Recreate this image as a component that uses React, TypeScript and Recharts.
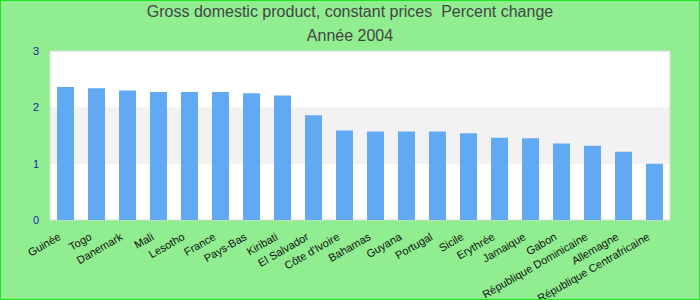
import { BarChart, Bar, XAxis, YAxis, CartesianGrid, ReferenceArea } from "recharts";

const countries = [
  "Guinée",
  "Togo",
  "Danemark",
  "Mali",
  "Lesotho",
  "France",
  "Pays-Bas",
  "Kiribati",
  "El Salvador",
  "Côte d'Ivoire",
  "Bahamas",
  "Guyana",
  "Portugal",
  "Sicile",
  "Erythrée",
  "Jamaique",
  "Gabon",
  "République Dominicaine",
  "Allemagne",
  "République Centrafricaine",
];
const values = [2.36, 2.34, 2.3, 2.27, 2.27, 2.27, 2.25, 2.21, 1.86, 1.59, 1.57, 1.57, 1.57, 1.54, 1.46, 1.45, 1.36, 1.32, 1.21, 1.0];
const yTicks = [0, 1, 2, 3];

const data = countries.map((name, i) => ({ name, value: values[i] }));

const FONT = '"Liberation Sans", Arial, sans-serif';

function CountryTick(props: any) {
  const { x, y, payload } = props;
  const tx = x - 4;
  const ty = y + 19;
  return (
    <text
      x={tx}
      y={ty}
      transform={`rotate(-30 ${tx} ${ty})`}
      textAnchor="end"
      fontSize={11}
      fontFamily={FONT}
      fill="#111"
    >
      {payload.value}
    </text>
  );
}

export default function App() {
  return (
    <div
      style={{
        position: "absolute",
        left: 0,
        top: 0,
        width: 700,
        height: 300,
        background: "#90ee90",
        fontFamily: FONT,
      }}
    >
      <div
        style={{
          position: "absolute",
          left: 0,
          top: 3,
          width: 700,
          textAlign: "center",
          fontSize: 16,
          color: "#444",
          whiteSpace: "pre",
        }}
      >
        {"Gross domestic product, constant prices  Percent change"}
      </div>
      <div
        style={{
          position: "absolute",
          left: 0,
          top: 27,
          width: 700,
          textAlign: "center",
          fontSize: 16,
          color: "#444",
        }}
      >
        Année 2004
      </div>
      <div style={{ position: "absolute", left: 0, top: 0 }}>
        <BarChart width={700} height={300} data={data} margin={{ top: 51, right: 30, bottom: 0, left: 0 }}>
          <CartesianGrid horizontal={false} vertical={false} fill="#ffffff" />
          <ReferenceArea y1={1} y2={2} fill="#f2f2f2" fillOpacity={1} stroke="none" />
          <ReferenceArea y1={0} y2={3} fill="none" stroke="#d8d8d8" strokeWidth={1} />
          <XAxis
            dataKey="name"
            interval={0}
            height={80}
            tickLine={false}
            axisLine={false}
            tickSize={0}
            tickMargin={0}
            tick={<CountryTick />}
          />
          <YAxis
            width={50}
            domain={[0, 3]}
            ticks={yTicks}
            axisLine={false}
            tickLine={false}
            tickSize={0}
            tickMargin={11}
            tick={{ fontSize: 11, fill: "#1c1ca8", fontFamily: FONT }}
          />
          <Bar dataKey="value" fill="#62a9f4" barSize={17} isAnimationActive={false} />
        </BarChart>
      </div>
      <div
        style={{
          position: "absolute",
          left: 0,
          top: 0,
          width: 700,
          height: 300,
          boxSizing: "border-box",
          border: "1px solid #1ee61e",
          pointerEvents: "none",
        }}
      />
    </div>
  );
}
